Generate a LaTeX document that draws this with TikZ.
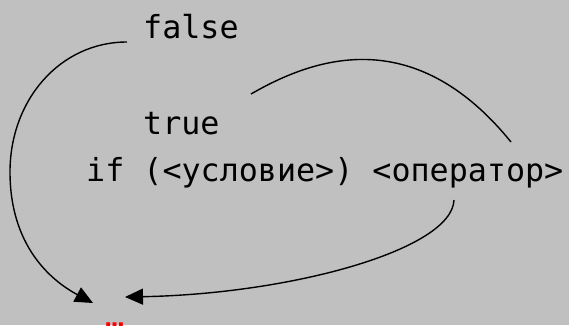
\documentclass[tikz,border=0pt]{standalone}
\usepackage{fontspec}
\setmonofont{DejaVu Sans Mono}
\usetikzlibrary{arrows.meta}
\definecolor{bggray}{HTML}{C0C0C0}
\begin{document}
\begin{tikzpicture}[x=1pt,y=-1pt,
  every node/.append style={inner sep=0pt, anchor=base west, font=\ttfamily\fontsize{31.7}{38}\selectfont},
  jump/.style={draw,line width=1.4pt,-{Triangle[length=18pt,width=16pt]}},
  loop/.style={draw,line width=1.4pt}]
\fill[bggray] (0,0) rectangle (569,325);
\clip (0,0) rectangle (569,325);
% text lines
\node (false) at (143,38) {false};
\node (true) at (143,134) {true};
\node (stmt) at (86,181) {if (<условие>) <оператор>};
\node[text=red] (dots) at (105,327) {…};
% ends of the curves
\coordinate (fout) at (127,42);
\coordinate (tout) at (251,94);
\coordinate (opin) at (511,142);
\coordinate (opout) at (454,200);
\coordinate (nextl) at (93,303);
\coordinate (nextr) at (125,297);
\path[jump] (fout) .. controls (60,42) and (10,100) .. (10,172)
  .. controls (10,245) and (50,280) .. (nextl);
\path[loop] (tout) .. controls (310,60) and (412,20) .. (opin);
\path[jump] (opout) .. controls (452,250) and (290,294) .. (nextr);
\end{tikzpicture}
\end{document}
